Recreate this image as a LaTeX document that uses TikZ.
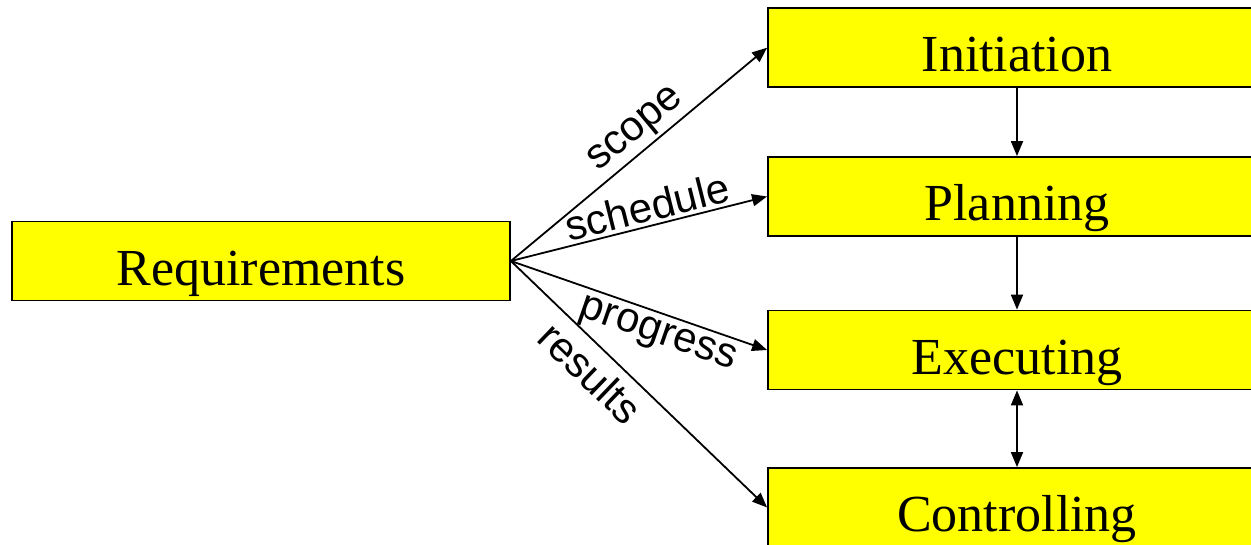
\documentclass[tikz,border=0pt]{standalone}
\usepackage{fontspec}
\setmainfont{Liberation Serif}
\newfontfamily\labelfont{Liberation Sans}
\usetikzlibrary{arrows.meta}
\definecolor{phasefill}{RGB}{255,255,0}
\begin{document}
\begin{tikzpicture}[x=1pt,y=-1pt,
  phase/.style={draw=black, line width=1.8pt, fill=phasefill, minimum width=498pt,
    minimum height=79pt, inner sep=0pt, text height=48pt, text depth=0pt,
    font=\fontsize{52}{60}\selectfont},
  flow/.style={line width=1.8pt, -{Triangle[length=15pt,width=12pt]}},
  both/.style={line width=1.8pt, {Triangle[length=15pt,width=12pt]}-{Triangle[length=15pt,width=12pt]}},
  tag/.style={font=\labelfont\fontsize{42}{48}\selectfont, sloped, inner sep=5pt}]
\useasboundingbox (0,0) rectangle (1251,544);
\clip (0,0) rectangle (1251,544);
\node[phase] (req)  at (261,261)   {Requirements};
\node[phase] (init) at (1017,47.7) {Initiation};
\node[phase] (plan) at (1017,196.5){Planning};
\node[phase] (exec) at (1017,350)  {Executing};
\node[phase] (ctrl) at (1017,507.5){Controlling};
\draw[flow] (req.east) -- node[tag, pos=0.54, above, inner sep=3pt] {scope} (init.west);
\draw[flow] (req.east) -- node[tag, pos=0.55, above, inner sep=3pt] {schedule} (plan.west);
\draw[flow] (req.east) -- node[tag, pos=0.6, below, inner sep=6pt] {progress} (exec.west);
\draw[flow] (req.east) -- node[tag, pos=0.38, below, inner sep=9pt] {results} (ctrl.west);
\draw[flow] (init.south) -- (plan.north);
\draw[flow] (plan.south) -- (exec.north);
\draw[both] (exec.south) -- (ctrl.north);
\end{tikzpicture}
\end{document}
